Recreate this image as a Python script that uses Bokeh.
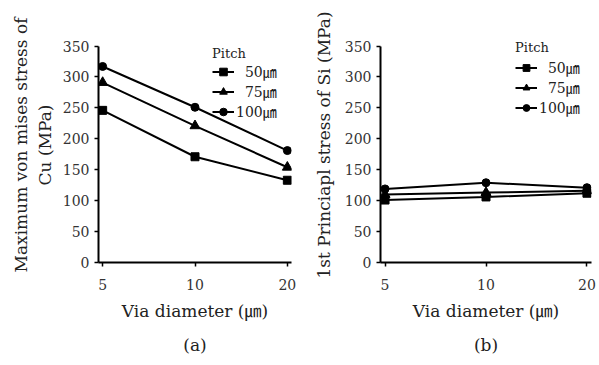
from bokeh.plotting import figure
from bokeh.layouts import row
from bokeh.models import Range1d, FixedTicker, Legend, LegendItem
from bokeh.embed import file_html
from bokeh.resources import INLINE

# ---- data ----
via_diameter = ["5", "10", "20"]
pitch_labels = ["\u200750㎛", "\u200775㎛", "100㎛"]
markers = ["square", "triangle", "circle"]
marker_sizes = [8, 10, 8]

cu_50 = [246, 171, 133]
cu_75 = [291, 221, 154]
cu_100 = [317, 251, 181]

si_50 = [101, 106, 112]
si_75 = [110, 113, 116]
si_100 = [119, 129, 121]

y_ticks = [0, 50, 100, 150, 200, 250, 300, 350]

FONT = "'DejaVu Serif', 'Noto Sans CJK KR'"


def make(series, ylabel, panel, width, mbl, mbr, mbt, leg_loc, glyph_h, t_standoff, lab_standoff):
    p = figure(width=width, height=365, output_backend="svg", toolbar_location=None,
               x_range=Range1d(-0.045, 2.045), y_range=Range1d(0, 380),
               min_border_left=mbl, min_border_right=mbr,
               min_border_top=mbt, min_border_bottom=103,
               title=panel, title_location="below")
    p.grid.visible = False
    p.outline_line_color = None
    p.background_fill_color = "white"
    p.border_fill_color = "white"

    x = list(range(len(via_diameter)))
    items = []
    for vals, mk, sz, lab in zip(series, markers, marker_sizes, pitch_labels):
        r1 = p.line(x, vals, line_color="black", line_width=2)
        r2 = p.scatter(x, vals, marker=mk, size=sz, fill_color="black", line_color="black")
        items.append(LegendItem(label=lab, renderers=[r1, r2]))

    leg = Legend(items=items, location=leg_loc, title="Pitch",
                 title_text_font=FONT, title_text_font_size="13px",
                 title_text_font_style="normal", title_text_color="#222222",
                 title_standoff=t_standoff,
                 label_text_font=FONT, label_text_font_size="14px",
                 label_text_color="#222222",
                 glyph_width=22, glyph_height=glyph_h, label_height=glyph_h,
                 label_standoff=2, spacing=0, padding=0, margin=0,
                 border_line_alpha=0, background_fill_alpha=0)
    p.add_layout(leg)

    # x axis
    xa = p.xaxis[0]
    xa.ticker = FixedTicker(ticks=x)
    xa.major_label_overrides = {i: v for i, v in zip(x, via_diameter)}
    xa.axis_label = "Via diameter (㎛)"
    # y axis
    ya = p.yaxis[0]
    ya.ticker = FixedTicker(ticks=y_ticks)
    ya.bounds = (0, 350)
    ya.axis_label = ylabel

    for ax in (xa, ya):
        ax.axis_line_width = 2
        ax.axis_line_color = "black"
        ax.major_tick_in = 0
        ax.major_tick_out = 4
        ax.major_tick_line_width = 1.5
        ax.major_tick_line_color = "black"
        ax.minor_tick_line_color = None
        ax.major_label_text_font = FONT
        ax.major_label_text_font_size = "14px"
        ax.major_label_text_color = "#333333"
        ax.axis_label_text_font = FONT
        ax.axis_label_text_font_size = "17px"
        ax.axis_label_text_font_style = "normal"
        ax.axis_label_text_color = "#222222"
    xa.major_label_standoff = 12
    xa.axis_label_standoff = 8
    ya.major_label_standoff = 5
    ya.axis_label_standoff = lab_standoff

    p.title.align = "center"
    p.title.text_font = FONT
    p.title.text_font_size = "17px"
    p.title.text_font_style = "normal"
    p.title.text_color = "#222222"
    p.title.standoff = 19
    return p


p1 = make([cu_50, cu_75, cu_100], "Maximum von mises stress of\nCu (MPa)", "(a)",
          300, 98, 9, 27, (114, 141), 19, 0, 5)
p2 = make([si_50, si_75, si_100], "1st Princiapl stress of Si (MPa)", "(b)",
          299, 80, 8, 26, (135, 145), 17, 2, 8)

layout = row(p1, p2)
open("out.html", "w").write(file_html(layout, INLINE))
